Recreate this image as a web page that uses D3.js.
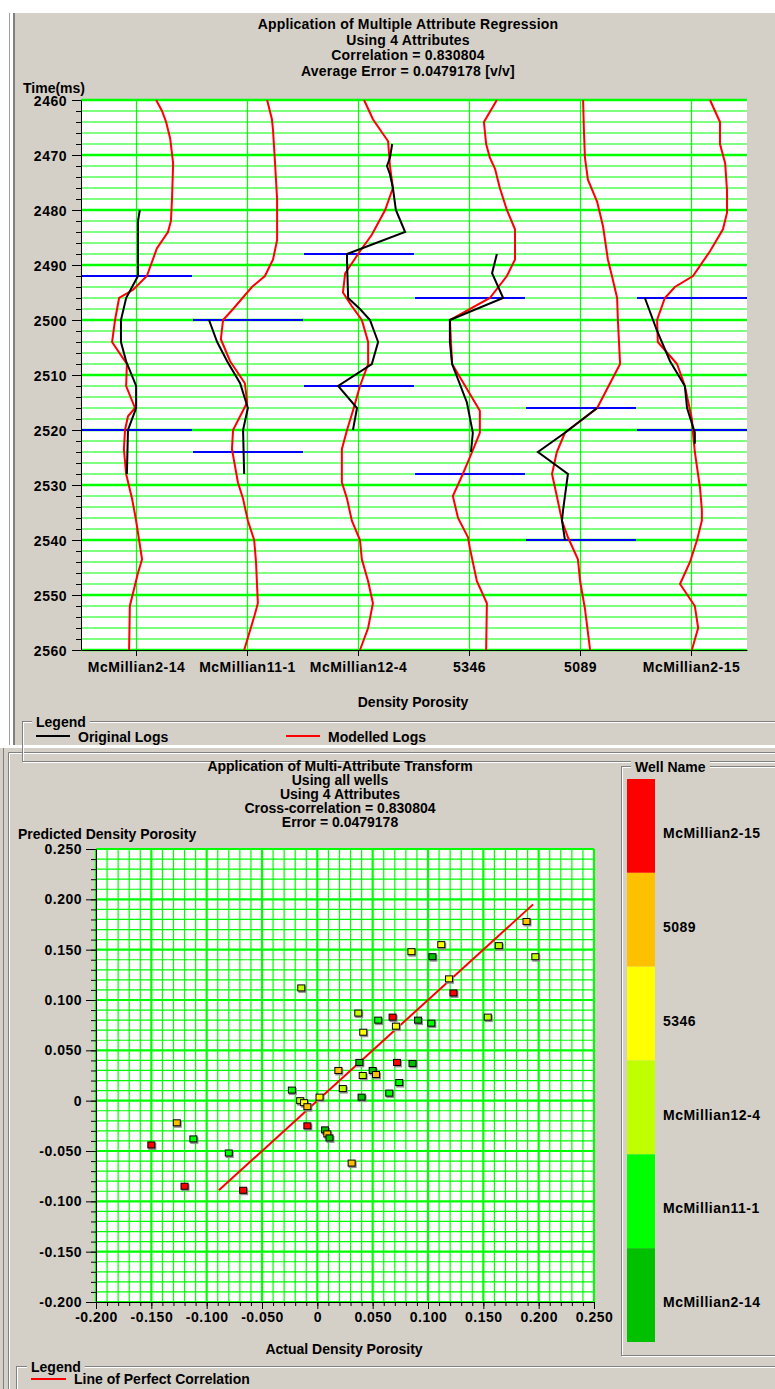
<!DOCTYPE html>
<html>
<head>
<meta charset="utf-8">
<script src="https://cdn.jsdelivr.net/npm/d3@7"></script>
<style>
  body { margin: 0; background: #fff; }
  svg { display: block; }
  text { font-family: "Liberation Sans", Arial, sans-serif; font-weight: bold; font-size: 14px; fill: #000; }
</style>
</head>
<body>
<script>
// ---- data: log comparison (time ms, density porosity v/v) ----
var wells = ["McMillian2-14", "McMillian11-1", "McMillian12-4", "5346", "5089", "McMillian2-15"];
var timeTicks = [2460, 2470, 2480, 2490, 2500, 2510, 2520, 2530, 2540, 2550, 2560];

var model_2_14 = [[2460,0.203],[2462,0.219],[2464,0.230],[2467,0.241],[2471.5,0.249],[2478,0.246],[2482,0.243],[2484,0.235],[2487,0.205],[2492,0.178],[2494.5,0.141],[2496,0.103],[2500,0.092],[2504,0.084],[2508,0.124],[2512,0.122],[2516,0.146],[2517.5,0.127],[2520,0.119],[2523.5,0.116],[2528,0.122],[2532.5,0.138],[2536.5,0.149],[2540,0.157],[2543.5,0.165],[2546,0.154],[2552,0.132],[2560,0.130]];
var orig_2_14 = [[2480,0.159],[2482,0.154],[2489,0.154],[2492,0.154],[2493,0.146],[2496,0.122],[2500,0.108],[2504,0.108],[2507.5,0.122],[2512,0.149],[2516,0.149],[2520,0.127],[2528,0.124]];

var model_11_1 = [[2460,0.203],[2463.5,0.216],[2465.5,0.219],[2471,0.224],[2478,0.230],[2485.5,0.230],[2489,0.219],[2492,0.197],[2494,0.162],[2498,0.111],[2500,0.084],[2503.5,0.078],[2507.5,0.103],[2511.5,0.143],[2515,0.149],[2520,0.111],[2523.5,0.108],[2529.5,0.124],[2532.5,0.138],[2536.5,0.151],[2540,0.168],[2544,0.173],[2551.5,0.178],[2553.5,0.170],[2560,0.141]];
var orig_11_1 = [[2500,0.046],[2504,0.068],[2507.5,0.095],[2511.5,0.130],[2516,0.151],[2520,0.138],[2528,0.141]];

var model_12_4 = [[2460,0.165],[2463.5,0.189],[2467.5,0.230],[2472,0.235],[2476,0.243],[2480,0.222],[2484.5,0.186],[2487.5,0.154],[2491.5,0.114],[2495,0.108],[2497.5,0.132],[2500,0.159],[2504,0.176],[2508,0.176],[2512,0.154],[2516.5,0.135],[2520,0.119],[2523.5,0.105],[2529.5,0.105],[2532.5,0.119],[2536.5,0.132],[2540,0.154],[2543.5,0.159],[2547.5,0.176],[2551.5,0.189],[2556,0.176],[2560,0.154]];
var orig_12_4 = [[2468,0.241],[2470.5,0.235],[2472,0.227],[2473.5,0.235],[2476,0.243],[2480,0.251],[2484,0.276],[2488,0.119],[2489.5,0.119],[2496,0.122],[2498,0.154],[2500,0.181],[2504,0.203],[2508,0.186],[2512,0.095],[2516,0.146],[2520,0.135]];

var model_5346 = [[2460,0.224],[2464,0.189],[2468,0.195],[2470.5,0.205],[2472.5,0.219],[2476,0.232],[2480,0.251],[2483.5,0.273],[2489,0.273],[2492,0.251],[2496,0.205],[2500,0.097],[2508,0.103],[2516.5,0.178],[2520.5,0.178],[2524,0.157],[2528,0.132],[2532,0.105],[2536,0.119],[2539.5,0.146],[2541.5,0.151],[2547.5,0.170],[2551.5,0.197],[2560,0.195]];
var orig_5346 = [[2488,0.224],[2491.5,0.211],[2496,0.241],[2500,0.097],[2504,0.097],[2508,0.103],[2515,0.143],[2520.5,0.159],[2524,0.154]];

var model_5089 = [[2460,0.157],[2465,0.159],[2470.5,0.162],[2474.5,0.170],[2478.5,0.195],[2483,0.211],[2489,0.224],[2492,0.235],[2496,0.249],[2500,0.251],[2508,0.257],[2516,0.195],[2520.5,0.108],[2524,0.086],[2528,0.073],[2532,0.086],[2536.5,0.100],[2539.5,0.116],[2543.5,0.143],[2547.5,0.149],[2552.5,0.162],[2560,0.176]];
var orig_5089 = [[2516,0.195],[2520.5,0.108],[2524,0.035],[2528,0.116],[2534.5,0.103],[2536.5,0.100],[2540,0.108]];

var model_2_15 = [[2460,0.200],[2464,0.227],[2468,0.227],[2471.5,0.241],[2476.5,0.246],[2480.5,0.246],[2483.5,0.235],[2487.5,0.200],[2492,0.154],[2494,0.105],[2496,0.078],[2500,0.057],[2504,0.059],[2508,0.111],[2512,0.132],[2518,0.151],[2520.5,0.154],[2524,0.159],[2530.5,0.173],[2534.5,0.178],[2536.5,0.178],[2540,0.165],[2544,0.146],[2548,0.119],[2552,0.159],[2556,0.168],[2560,0.151]];
var orig_2_15 = [[2496,0.024],[2502,0.057],[2507.5,0.092],[2512,0.132],[2516,0.138],[2520.5,0.159],[2522.5,0.159]];

// horizon picks (ms) per well, same order as wells
var wellTops = [[2492, 2520], [2500, 2524], [2488, 2512], [2496, 2528], [2516, 2540], [2496, 2520]];

// ---- data: crossplot ----
var porosityTicks = [-0.2, -0.15, -0.1, -0.05, 0, 0.05, 0.1, 0.15, 0.2, 0.25];
var actual = [0.189,0.112,0.085,0.104,0.164,0.197,0.119,0.123,0.068,0.071,0.091,0.103,0.154,0.072,0.086,0.074,0.065,0.055,-0.0145,0.037,0.0415,0.038,0.019,0.050,0.041,0.053,0.023,-0.023,0.040,-0.0155,-0.012,-0.009,0.002,-0.009,0.007,0.009,0.011,-0.127,-0.112,-0.150,-0.080,0.031,-0.120,-0.067];
var predicted = [0.178,0.155,0.148,0.143,0.154,0.143,0.121,0.107,0.083,0.074,0.080,0.077,0.083,0.038,0.037,0.018,0.0075,0.080,0.112,0.087,0.068,0.038,0.030,0.030,0.025,0.026,0.012,0.0105,0.0035,0.000,-0.002,-0.006,0.0035,-0.025,-0.029,-0.033,-0.037,-0.022,-0.038,-0.044,-0.052,-0.062,-0.085,-0.089];
var pointWell = ["5089","5346","5346","McMillian2-14","McMillian12-4","McMillian12-4","5346","McMillian2-15","McMillian2-15","5346","McMillian2-14","McMillian11-1","McMillian12-4","McMillian2-15","McMillian2-14","McMillian11-1","McMillian11-1","McMillian11-1","McMillian12-4","McMillian12-4","5346","McMillian2-14","5089","McMillian2-14","McMillian12-4","5089","McMillian12-4","McMillian11-1","McMillian2-14","McMillian12-4","5346","5089","5346","McMillian2-15","McMillian2-14","5089","McMillian2-14","5089","McMillian11-1","McMillian2-15","McMillian11-1","5089","McMillian2-15","McMillian2-15"];
var legendWells = ["McMillian2-15", "5089", "5346", "McMillian12-4", "McMillian11-1", "McMillian2-14"];
var legendColors = ["#ff0000", "#ffc000", "#ffff00", "#c0ff00", "#00ff00", "#00c000"];
var correlationExtent = [-0.089, 0.195];

var W = 775, H = 1389;
var gray = "#d4d0c8";

var svg = d3.select("body").append("svg")
  .attr("width", W)
  .attr("height", H);

svg.append("rect").attr("width", W).attr("height", H).attr("fill", "#fff");

// panel backgrounds and window borders
svg.append("rect").attr("x", 15).attr("y", 13).attr("width", W - 15).attr("height", 732).attr("fill", gray);
svg.append("rect").attr("x", 9).attr("y", 13).attr("width", 1).attr("height", 732).attr("fill", "#a0a0a0");
svg.append("rect").attr("x", 13).attr("y", 13).attr("width", 2).attr("height", 732).attr("fill", "#808080");
svg.append("rect").attr("x", 0).attr("y", 748).attr("width", W).attr("height", H - 748).attr("fill", gray);
svg.append("line").attr("x1", 3.5).attr("x2", 3.5).attr("y1", 748).attr("y2", H).attr("stroke", "#808080");
svg.append("path").attr("d", "M8.5," + H + "V752.5H" + W).attr("fill", "none").attr("stroke", "#808080");
svg.append("path").attr("d", "M9.5," + H + "V753.5H" + W).attr("fill", "none").attr("stroke", "#fff");

function groupBox(x, y, w, h, label, labelX) {
  svg.append("rect").attr("x", x + 1.5).attr("y", y + 1.5).attr("width", w).attr("height", h)
    .attr("fill", "none").attr("stroke", "#fff");
  svg.append("rect").attr("x", x + 0.5).attr("y", y + 0.5).attr("width", w).attr("height", h)
    .attr("fill", "none").attr("stroke", "#808080");
  var t = svg.append("text").attr("x", labelX).attr("y", y + 6).text(label);
  var bb = t.node().getBBox();
  svg.insert("rect", function () { return t.node(); })
    .attr("x", bb.x - 4).attr("y", bb.y).attr("width", bb.width + 8).attr("height", bb.height)
    .attr("fill", gray);
}

// ================= top: log tracks =================
var x = d3.scaleBand().domain(wells).range([81, 747]);
var y = d3.scaleLinear().domain([2460, 2560]).range([100, 650]);
var track = d3.scaleLinear().domain([0, 0.3]).range([0, x.bandwidth()]);

var logs = wells.map(function (w, i) {
  return {
    well: w,
    model: [model_2_14, model_11_1, model_12_4, model_5346, model_5089, model_2_15][i],
    orig: [orig_2_14, orig_11_1, orig_12_4, orig_5346, orig_5089, orig_2_15][i],
    tops: wellTops[i]
  };
});

var plot = svg.append("g");
plot.append("rect").attr("x", 81).attr("y", 100).attr("width", 666).attr("height", 550).attr("fill", "#fff");

// grid
plot.selectAll(".hgrid").data(d3.range(2460, 2561, 2)).enter().append("line")
  .attr("x1", 81).attr("x2", 747)
  .attr("y1", function (d) { return y(d); }).attr("y2", function (d) { return y(d); })
  .attr("stroke", "#00ff00")
  .attr("stroke-width", function (d) { return (d - 2460) % 10 === 0 ? 2.5 : 1.2; });
plot.selectAll(".vgrid").data(wells).enter().append("line")
  .attr("x1", function (d) { return x(d) + x.bandwidth() / 2; })
  .attr("x2", function (d) { return x(d) + x.bandwidth() / 2; })
  .attr("y1", 100).attr("y2", 650)
  .attr("stroke", "#00ff00").attr("stroke-width", 1.2);

// horizon lines
logs.forEach(function (l) {
  plot.selectAll(null).data(l.tops).enter().append("line")
    .attr("x1", x(l.well) + 1).attr("x2", x(l.well) + x.bandwidth())
    .attr("y1", function (d) { return y(d); }).attr("y2", function (d) { return y(d); })
    .attr("stroke", "#0000ff").attr("stroke-width", 2);
});

logs.forEach(function (l) {
  var line = d3.line()
    .x(function (d) { return x(l.well) + track(d[1]); })
    .y(function (d) { return y(d[0]); });
  plot.append("path").datum(l.model).attr("d", line)
    .attr("fill", "none").attr("stroke", "#ff0000").attr("stroke-width", 2);
  plot.append("path").datum(l.orig).attr("d", line)
    .attr("fill", "none").attr("stroke", "#000").attr("stroke-width", 2);
});

// axes
var yMinor = plot.append("g").attr("transform", "translate(81,0)")
  .call(d3.axisLeft(y).tickValues(d3.range(2460, 2561, 2)).tickSize(5).tickFormat(""));
yMinor.select(".domain").remove();
var yAxis = plot.append("g").attr("transform", "translate(81,0)")
  .call(d3.axisLeft(y).tickValues(timeTicks).tickSize(9).tickSizeOuter(0).tickPadding(5).tickFormat(d3.format("d")));
yAxis.selectAll("text").attr("dy", "0.42em").style("letter-spacing", "0.5px");
var xAxis = plot.append("g").attr("transform", "translate(0,650)")
  .call(d3.axisBottom(x).tickSize(6).tickSizeOuter(0).tickPadding(6));
xAxis.selectAll("text").style("letter-spacing", "0.5px");
plot.selectAll(".domain, .tick line").attr("stroke", "#000");

// titles
var titleTop = ["Application of Multiple Attribute Regression", "Using 4 Attributes",
  "Correlation = 0.830804", "Average Error = 0.0479178 [v/v]"];
svg.selectAll(".t1").data(titleTop).enter().append("text")
  .attr("x", 408).attr("y", function (d, i) { return 29 + i * 15.7; })
  .attr("text-anchor", "middle").style("letter-spacing", "0.2px").text(function (d) { return d; });
svg.append("text").attr("x", 23).attr("y", 93).text("Time(ms)");
svg.append("text").attr("x", 413).attr("y", 707).attr("text-anchor", "middle").text("Density Porosity");

// legend
groupBox(22, 721, 760, 40, "Legend", 36);
svg.append("line").attr("x1", 36).attr("x2", 70).attr("y1", 736).attr("y2", 736).attr("stroke", "#000").attr("stroke-width", 2);
svg.append("text").attr("x", 78).attr("y", 742).text("Original Logs");
svg.append("line").attr("x1", 286).attr("x2", 320).attr("y1", 736).attr("y2", 736).attr("stroke", "#ff0000").attr("stroke-width", 2);
svg.append("text").attr("x", 328).attr("y", 742).text("Modelled Logs");

// ================= bottom: crossplot =================
var x2 = d3.scaleLinear().domain([-0.2, 0.25]).range([96, 594]);
var y2 = d3.scaleLinear().domain([-0.2, 0.25]).range([1302, 849]);
var color = d3.scaleOrdinal().domain(legendWells).range(legendColors);
var fmt = function (d) { return d === 0 ? "0" : (d < 0 ? "-" : "") + Math.abs(d).toFixed(3); };
var steps = d3.range(0, 46).map(function (i) { return { v: -0.2 + i * 0.01, major: i % 5 === 0 }; });

var cross = svg.append("g");
cross.append("rect").attr("x", 96).attr("y", 849).attr("width", 498).attr("height", 453).attr("fill", "#fff");
cross.selectAll(".gx").data(steps).enter().append("line")
  .attr("x1", function (d) { return x2(d.v); }).attr("x2", function (d) { return x2(d.v); })
  .attr("y1", 849).attr("y2", 1302)
  .attr("stroke", "#00ff00").attr("stroke-width", function (d) { return d.major ? 2.2 : 1.2; });
cross.selectAll(".gy").data(steps).enter().append("line")
  .attr("y1", function (d) { return y2(d.v); }).attr("y2", function (d) { return y2(d.v); })
  .attr("x1", 96).attr("x2", 594)
  .attr("stroke", "#00ff00").attr("stroke-width", function (d) { return d.major ? 2.2 : 1.2; });

// line of perfect correlation
cross.append("line")
  .attr("x1", x2(correlationExtent[0])).attr("y1", y2(correlationExtent[0]))
  .attr("x2", x2(correlationExtent[1])).attr("y2", y2(correlationExtent[1]))
  .attr("stroke", "#ff0000").attr("stroke-width", 2);

var pts = actual.map(function (a, i) { return { a: a, p: predicted[i], w: pointWell[i] }; });
cross.selectAll(".shadow").data(pts).enter().append("rect")
  .attr("x", function (d) { return x2(d.a) - 3; }).attr("y", function (d) { return y2(d.p) - 2; })
  .attr("width", 8).attr("height", 7).attr("fill", "#909090");
cross.selectAll(".pt").data(pts).enter().append("rect")
  .attr("x", function (d) { return x2(d.a) - 3.5; }).attr("y", function (d) { return y2(d.p) - 3; })
  .attr("width", 7).attr("height", 6)
  .attr("fill", function (d) { return color(d.w); })
  .attr("stroke", "#000").attr("stroke-width", 1);

var yMinor2 = cross.append("g").attr("transform", "translate(96,0)")
  .call(d3.axisLeft(y2).tickValues(steps.map(function (d) { return d.v; })).tickSize(5).tickFormat(""));
yMinor2.select(".domain").remove();
var yAxis2 = cross.append("g").attr("transform", "translate(96,0)")
  .call(d3.axisLeft(y2).tickValues(porosityTicks).tickSize(10).tickSizeOuter(0).tickPadding(4).tickFormat(fmt));
yAxis2.selectAll("text").style("letter-spacing", "0.5px");
var xMinor2 = cross.append("g").attr("transform", "translate(0,1302)")
  .call(d3.axisBottom(x2).tickValues(steps.map(function (d) { return d.v; })).tickSize(4).tickFormat(""));
xMinor2.select(".domain").remove();
var xAxis2 = cross.append("g").attr("transform", "translate(0,1302)")
  .call(d3.axisBottom(x2).tickValues(porosityTicks).tickSize(7).tickSizeOuter(0).tickPadding(3).tickFormat(fmt));
xAxis2.selectAll("text").style("letter-spacing", "0.5px");
cross.selectAll(".domain, .tick line").attr("stroke", "#000");

var titleBottom = ["Application of Multi-Attribute Transform", "Using all wells", "Using 4 Attributes",
  "Cross-correlation = 0.830804", "Error = 0.0479178"];
svg.selectAll(".t2").data(titleBottom).enter().append("text")
  .attr("x", 340).attr("y", function (d, i) { return 771 + i * 14; })
  .attr("text-anchor", "middle").text(function (d) { return d; });
svg.append("text").attr("x", 18).attr("y", 839).text("Predicted Density Porosity");
svg.append("text").attr("x", 344).attr("y", 1354).attr("text-anchor", "middle").text("Actual Density Porosity");

// well name colour bar
groupBox(621, 766, 200, 589, "Well Name", 635);
var yBar = d3.scaleBand().domain(legendWells).range([779, 1342]);
svg.selectAll(".seg").data(legendWells).enter().append("rect")
  .attr("x", 627).attr("y", function (d) { return yBar(d); })
  .attr("width", 28).attr("height", yBar.bandwidth())
  .attr("fill", function (d) { return color(d); });
svg.selectAll(".segl").data(legendWells).enter().append("text")
  .attr("x", 663).attr("y", function (d) { return yBar(d) + 59; })
  .style("letter-spacing", "0.5px").text(function (d) { return d; });

// bottom legend
groupBox(16, 1366, 800, 40, "Legend", 31);
svg.append("line").attr("x1", 31).attr("x2", 66).attr("y1", 1379).attr("y2", 1379).attr("stroke", "#ff0000").attr("stroke-width", 2);
svg.append("text").attr("x", 74).attr("y", 1384).text("Line of Perfect Correlation");
</script>
</body>
</html>
